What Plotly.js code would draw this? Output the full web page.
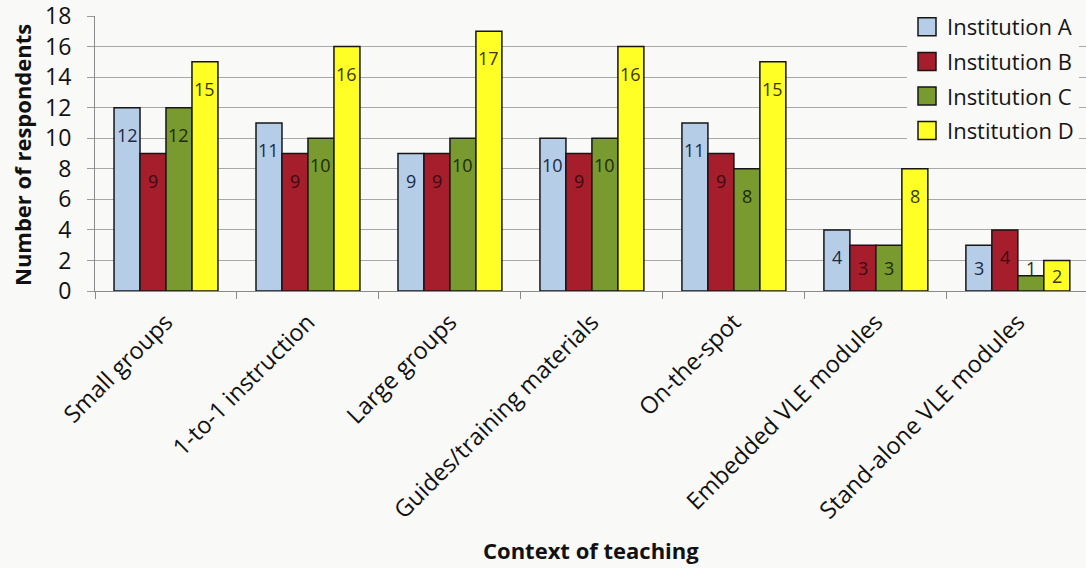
<!DOCTYPE html>
<html>
<head>
<meta charset="utf-8">
<script src="https://cdn.plot.ly/plotly-3.0.1.min.js"></script>
<style>
  html, body { margin: 0; padding: 0; background: #f9f9f8; }
  #chart { width: 1086px; height: 568px; }
</style>
</head>
<body>
<div id="chart"></div>
<script>
// Teaching contexts on the category axis
const categories = [
  'Small groups',
  '1-to-1 instruction',
  'Large groups',
  'Guides/training materials',
  'On-the-spot',
  'Embedded VLE modules',
  'Stand-alone VLE modules'
];

// Respondents per institution
const institutionA = [12, 11, 9, 10, 11, 4, 3];
const institutionB = [9, 9, 9, 9, 9, 3, 4];
const institutionC = [12, 10, 10, 10, 8, 3, 1];
const institutionD = [15, 16, 17, 16, 15, 8, 2];

const seriesNames = ['Institution A', 'Institution B', 'Institution C', 'Institution D'];
const seriesValues = [institutionA, institutionB, institutionC, institutionD];

// Styling
const fillColors = ['#b6cde8', '#a61e2c', '#789a2f', '#ffff26'];
const labelColors = ['#1b2a45', '#3a0c10', '#1f2a0a', '#3a3800'];
const FONT = '"Open Sans", Lato, sans-serif';
const W = 1086, H = 568;
const M = { l: 95, r: 0, t: 16, b: 277 };
const X_RANGE = [-0.5, 6.48];
const Y_RANGE = [0, 18];
const BARGAP = 0.268;

const plotW = W - M.l - M.r;
const plotH = H - M.t - M.b;
const catPx = plotW / (X_RANGE[1] - X_RANGE[0]);
const barPx = catPx * (1 - BARGAP) / seriesValues.length;
const unitPx = plotH / (Y_RANGE[1] - Y_RANGE[0]);

const traces = seriesNames.map((name, i) => ({
  type: 'bar',
  name: name,
  legendgroup: name,
  x: categories,
  y: seriesValues[i],
  marker: { color: fillColors[i], line: { color: '#161616', width: 1.5 } },
  hoverinfo: 'x+y+name'
}));

// Value labels sit just inside the top of each bar (above very short bars)
const annotations = [];
seriesValues.forEach((vals, i) => {
  vals.forEach((v, j) => {
    const h = v * unitPx;
    const shift = h < 20 ? 8 : -Math.min(27, h / 2);
    annotations.push({
      xref: 'x', yref: 'y',
      x: categories[j], y: v,
      xshift: (i - (seriesValues.length - 1) / 2) * barPx,
      yshift: shift,
      text: String(v),
      showarrow: false,
      xanchor: 'center', yanchor: 'middle',
      font: { family: FONT, size: 18, color: labelColors[i] }
    });
  });
});

// Axis titles
annotations.push({
  xref: 'paper', yref: 'paper',
  x: 0.5, y: (M.t + plotH - 550) / plotH,
  text: '<b>Context of teaching</b>',
  showarrow: false, xanchor: 'center', yanchor: 'middle',
  font: { family: FONT, size: 22, color: '#111' }
});
annotations.push({
  xref: 'paper', yref: 'paper',
  x: (22 - M.l) / plotW, y: (M.t + plotH - 155) / plotH,
  text: '<b>Number of respondents</b>',
  textangle: -90,
  showarrow: false, xanchor: 'center', yanchor: 'middle',
  font: { family: FONT, size: 22, color: '#111' }
});

const layout = {
  width: W, height: H,
  margin: M,
  paper_bgcolor: '#f9f9f8',
  plot_bgcolor: '#f9f9f8',
  barmode: 'group',
  bargap: BARGAP,
  bargroupgap: 0,
  font: { family: FONT, color: '#111' },
  showlegend: true,
  legend: {
    x: (907 - M.l) / plotW, xanchor: 'left',
    y: 1 + 10 / plotH, yanchor: 'top',
    bgcolor: '#f9f9f8',
    font: { family: FONT, size: 22, color: '#151515' },
    traceorder: 'grouped',
    tracegroupgap: 3,
    itemwidth: 30
  },
  xaxis: {
    type: 'category',
    range: X_RANGE,
    showline: true, linecolor: '#8a8a8a', linewidth: 1,
    ticks: 'outside', tickson: 'boundaries', ticklen: 7, tickcolor: '#8a8a8a',
    tickangle: -45,
    ticklabelstandoff: 7,
    tickfont: { family: FONT, size: 23.5, color: '#111' },
    showgrid: false,
    fixedrange: true
  },
  yaxis: {
    range: Y_RANGE,
    dtick: 2,
    showline: true, linecolor: '#8a8a8a', linewidth: 1,
    ticks: 'outside', ticklen: 7, tickcolor: '#9a9a9a',
    ticklabelstandoff: 11,
    ticklabeloverflow: 'allow',
    tickfont: { family: FONT, size: 23, color: '#111' },
    showgrid: true, gridcolor: '#a8a8a8', gridwidth: 1,
    zeroline: false,
    fixedrange: true
  },
  annotations: annotations
};

Plotly.newPlot('chart', traces, layout, { displayModeBar: false, staticPlot: true }).then(gd => {
  // Larger square swatches in the legend
  gd.querySelectorAll('.legend .legendpoints path').forEach(p => {
    p.setAttribute('d', 'M9,9H-9V-9H9Z');
  });
});
</script>
</body>
</html>
